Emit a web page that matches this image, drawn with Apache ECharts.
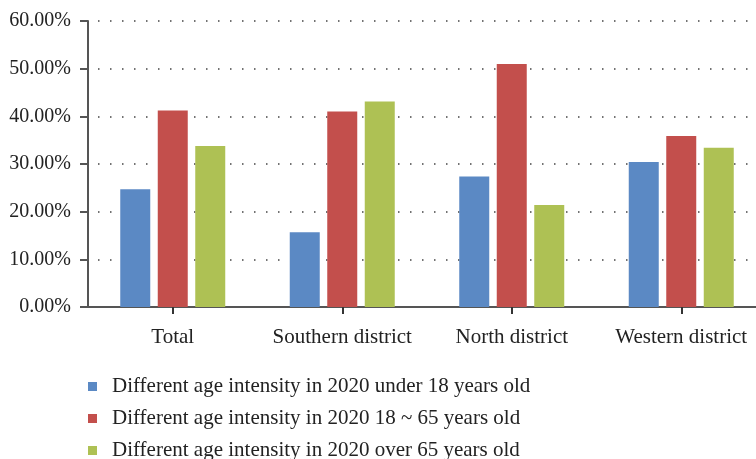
<!DOCTYPE html>
<html>
<head>
<meta charset="UTF-8">
<title>Age intensity by district</title>
<script src="https://cdn.jsdelivr.net/npm/echarts@6/dist/echarts.min.js"></script>
<style>
body { margin: 0; padding: 0; background: #fff; overflow: hidden; }
/* the plot runs a little past the right edge of the window, as in the original */
#main { width: 766px; height: 459px; }
</style>
</head>
<body>
<div id="main"></div>
<script>
// data (percent)
var districts = ['Total', 'Southern district', 'North district', 'Western district'];
var seriesNames = [
    'Different age intensity in 2020 under 18 years old',
    'Different age intensity in 2020 18 ~ 65 years old',
    'Different age intensity in 2020 over 65 years old'
];
var under18 = [24.7, 15.7, 27.4, 30.4];
var age18to65 = [41.2, 41.0, 51.0, 35.9];
var over65 = [33.8, 43.1, 21.4, 33.4];
var colors = ['#5b89c4', '#c34f4c', '#aec154'];

var font = '"Liberation Serif", "DejaVu Serif", serif';
var chart = echarts.init(document.getElementById('main'));

function bar(name, values, color) {
    return {
        name: name,
        type: 'bar',
        data: values,
        barWidth: 30,
        barGap: '25%',
        itemStyle: { color: color },
        emphasis: { disabled: true }
    };
}

var option = {
    animation: false,
    color: colors,
    grid: {
        left: 88,
        right: 0,
        top: 21,
        bottom: 152,
        containLabel: false
    },
    legend: {
        orient: 'vertical',
        left: 83,
        top: 371,
        height: 200,
        itemWidth: 9,
        itemHeight: 9,
        itemGap: 11,
        icon: 'rect',
        textStyle: { fontFamily: font, fontSize: 21, lineHeight: 21, color: '#222', padding: [0, 0, 0, 10] },
        data: seriesNames
    },
    xAxis: {
        type: 'category',
        data: districts,
        axisLine: { lineStyle: { color: '#555', width: 2 } },
        axisTick: { show: true, alignWithLabel: true, length: 7, lineStyle: { color: '#333', width: 2 } },
        axisLabel: { interval: 0, fontFamily: font, fontSize: 21, color: '#222', margin: 20 }
    },
    yAxis: {
        type: 'value',
        min: 0,
        max: 60,
        interval: 10,
        axisLine: { show: true, lineStyle: { color: '#555', width: 2 } },
        axisTick: { show: true, length: 8, lineStyle: { color: '#555', width: 2 } },
        axisLabel: {
            fontFamily: font,
            fontSize: 20,
            color: '#222',
            margin: 17,
            formatter: function (v) { return v.toFixed(2) + '%'; }
        },
        splitLine: {
            show: true,
            lineStyle: { color: '#444', width: 1.5, type: [1.5, 10.5], dashOffset: -10 }
        }
    },
    series: [
        bar(seriesNames[0], under18, colors[0]),
        bar(seriesNames[1], age18to65, colors[1]),
        bar(seriesNames[2], over65, colors[2])
    ]
};
chart.setOption(option);
</script>
</body>
</html>
